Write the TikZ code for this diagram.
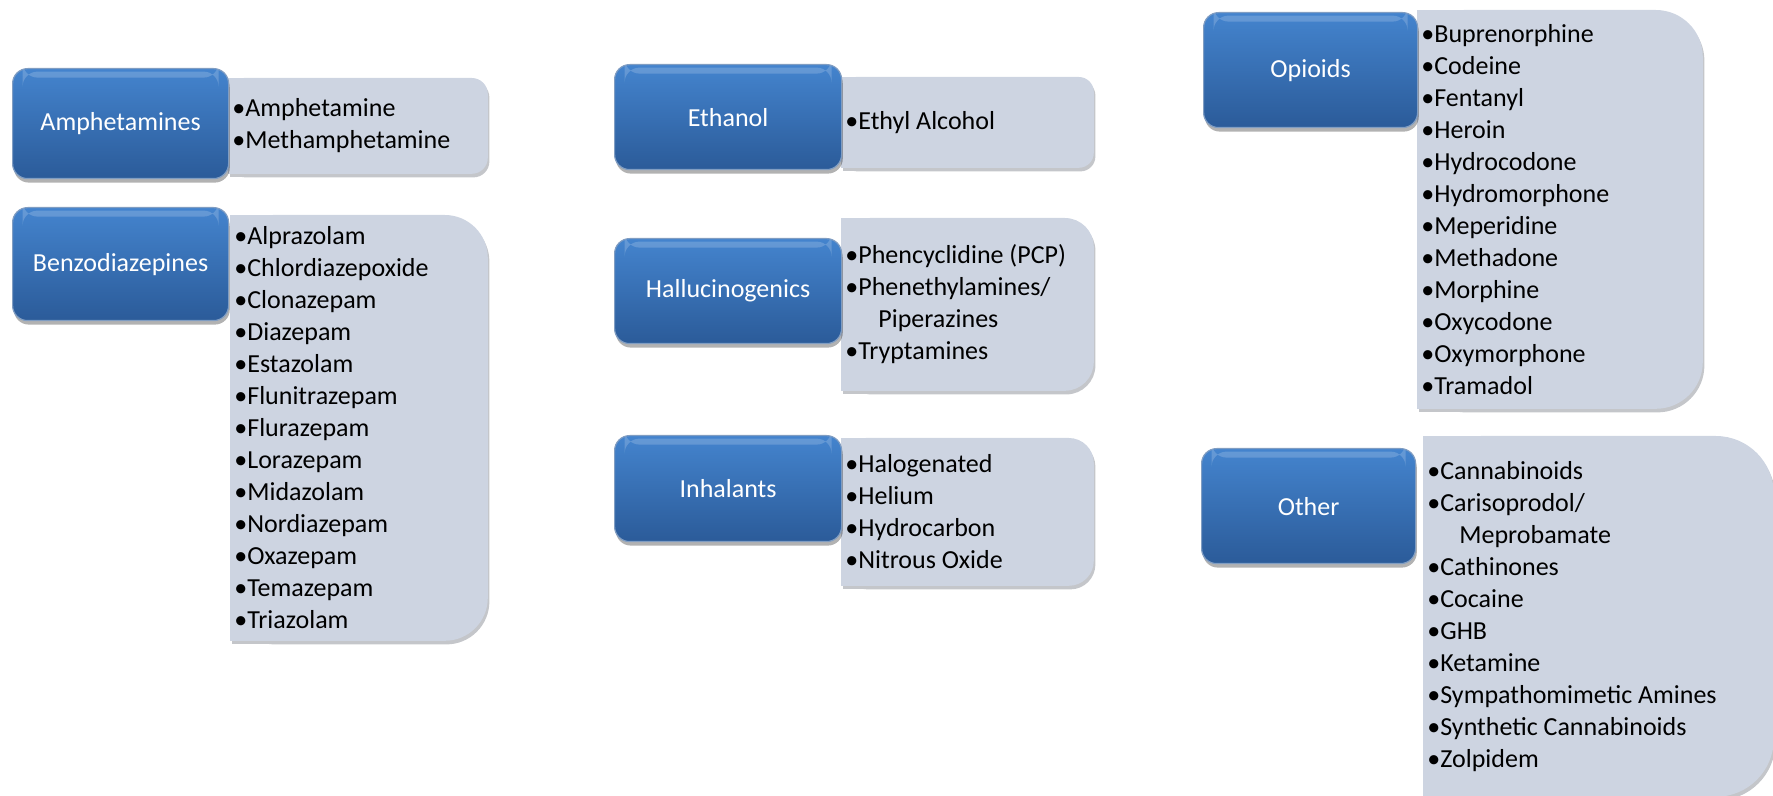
\documentclass[tikz,border=0pt]{standalone}
\usepackage{fontspec}
\setmainfont{Carlito}
\usetikzlibrary{shadows}
\usetikzlibrary{positioning}

\definecolor{bluetop}{RGB}{68,132,206}
\definecolor{bluebot}{RGB}{43,91,153}
\definecolor{listfill}{RGB}{205,212,225}
\definecolor{listshade}{RGB}{196,198,202}

\pgfdeclarelayer{bg}
\pgfsetlayers{bg,main}

\begin{document}
\begin{tikzpicture}[x=0.5pt,y=-0.5pt,
  catbox/.style={anchor=north west,inner sep=0pt,rounded corners=7.5pt,
    top color=bluetop,bottom color=bluebot,draw=bluebot!60!white,line width=0.6pt,
    text=white,font=\fontsize{13}{16}\selectfont,
    path picture={\fill[white,opacity=0.18] ([xshift=5pt,yshift=-1.5pt]path picture bounding box.north west)
      rectangle ([xshift=-5pt,yshift=-4.5pt]path picture bounding box.north east);},
    drop shadow={shadow xshift=0.6pt,shadow yshift=-2pt,fill=black,opacity=0.3}},
  listbox/.style={anchor=north west,inner xsep=2pt,inner ysep=0pt,align=left,
    font=\fontsize{13}{16}\selectfont,execute at begin node={\spaceskip=0pt\xspaceskip=0pt\relax}}]
\useasboundingbox (0,0) rectangle (1773,796);

% lists
\node (amphl) [listbox,minimum width=129.5pt,minimum height=47.5pt,text width=125.5pt] at (228,78)
  {•Amphetamine\\•Methamphetamine};
\node (benzl) [listbox,minimum width=128.5pt,minimum height=212.5pt,text width=124.5pt] at (230,215)
  {•Alprazolam\\•Chlordiazepoxide\\•Clonazepam\\•Diazepam\\•Estazolam\\•Flunitrazepam\\•Flurazepam\\
   •Lorazepam\\•Midazolam\\•Nordiazepam\\•Oxazepam\\•Temazepam\\•Triazolam};
\node (ethl) [listbox,minimum width=126pt,minimum height=45pt,text width=122pt] at (841,77)
  {•Ethyl Alcohol};
\node (halll) [listbox,minimum width=126pt,minimum height=86pt,text width=122pt] at (841,218)
  {•Phencyclidine (PCP)\\•Phenethylamines/\\\hspace*{16.5pt}Piperazines\\•Tryptamines};
\node (inhl) [listbox,minimum width=126pt,minimum height=73.5pt,text width=122pt] at (841,438)
  {•Halogenated\\•Helium\\•Hydrocarbon\\•Nitrous Oxide};
\node (opil) [listbox,minimum width=142.5pt,minimum height=199pt,text width=138.5pt] at (1417,10)
  {•Buprenorphine\\•Codeine\\•Fentanyl\\•Heroin\\•Hydrocodone\\•Hydromorphone\\•Meperidine\\
   •Methadone\\•Morphine\\•Oxycodone\\•Oxymorphone\\•Tramadol};
\node (othl) [listbox,minimum width=175pt,minimum height=180pt,text width=171pt] at (1423,436)
  {•Cannabinoids\\•Carisoprodol/\\\hspace*{16pt}Meprobamate\\•Cathinones\\•Cocaine\\•GHB\\
   •Ketamine\\•Sympathomimetic Amines\\•Synthetic Cannabinoids\\•Zolpidem};

\begin{pgfonlayer}{bg}
\foreach \n/\r in {amphl/8pt,benzl/21.5pt,ethl/7.5pt,halll/14.5pt,inhl/12.5pt,opil/23.5pt,othl/29pt}{
  \fill[listshade,rounded corners=\r] ([shift={(0.8pt,-1.8pt)}]\n.south west) rectangle ([shift={(0.8pt,-1.8pt)}]\n.north east);
  \fill[listshade] ([shift={(0.8pt,-1.8pt)}]\n.south west) rectangle ([shift={(0.8pt,-1.8pt)}]\n.north);
  \fill[listfill,rounded corners=\r] (\n.south west) rectangle (\n.north east);
  \fill[listfill] (\n.south west) rectangle (\n.north);
}
\end{pgfonlayer}

% categories
\node (amph) [catbox,minimum width=108pt,minimum height=55pt] at (12,68) {Amphetamines};
\node (benz) [catbox,minimum width=108pt,minimum height=56.5pt] at (12,207) {Benzodiazepines};
\node (eth) [catbox,minimum width=113.5pt,minimum height=52.5pt] at (614,64) {Ethanol};
\node (hall) [catbox,minimum width=113.5pt,minimum height=52.5pt] at (614,238) {Hallucinogenics};
\node (inh) [catbox,minimum width=113.5pt,minimum height=53pt] at (614,435) {Inhalants};
\node (opi) [catbox,minimum width=107pt,minimum height=57.5pt] at (1203,12) {Opioids};
\node (oth) [catbox,minimum width=107pt,minimum height=57.5pt] at (1201,448) {Other};
\end{tikzpicture}
\end{document}
